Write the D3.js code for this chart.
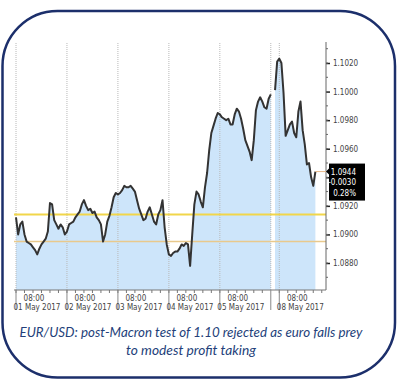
<!DOCTYPE html>
<html>
<head>
<meta charset="utf-8">
<script src="https://cdn.jsdelivr.net/npm/d3@7"></script>
<style>
  body { margin: 0; background: #fff; }
  svg { display: block; }
  .axisLabel { font-family: "Liberation Sans Narrow", "DejaVu Sans Condensed", sans-serif; font-size: 8px; fill: #444; }
  .caption { font-family: Lato, "Open Sans", sans-serif; font-style: italic; font-size: 14px; fill: #243f7a; }
</style>
</head>
<body>
<div id="chart"></div>
<script>
// EUR/USD hourly closes
// week of 01-05 May 2017, one value per hour starting 01 May 00:00
var weekPrices = [
  1.0912, 1.0900, 1.0907, 1.0909, 1.0900, 1.0895, 1.0894, 1.0893, 1.0891, 1.0889,
  1.0886, 1.0890, 1.0893, 1.0895, 1.0897, 1.0902, 1.0922, 1.0921, 1.0910, 1.0907,
  1.0904, 1.0907, 1.0905, 1.0900, 1.0902, 1.0907, 1.0908, 1.0909, 1.0912, 1.0914,
  1.0916, 1.0921, 1.0924, 1.0920, 1.0917, 1.0918, 1.0915, 1.0916, 1.0912, 1.0910,
  1.0907, 1.0895, 1.0900, 1.0909, 1.0913, 1.0919, 1.0926, 1.0929, 1.0928, 1.0929,
  1.0931, 1.0934, 1.0933, 1.0933, 1.0934, 1.0932, 1.0930, 1.0924, 1.0918, 1.0914,
  1.0910, 1.0911, 1.0916, 1.0919, 1.0914, 1.0909, 1.0907, 1.0914, 1.0917, 1.0924,
  1.0905, 1.0893, 1.0886, 1.0885, 1.0887, 1.0888, 1.0888, 1.0890, 1.0893, 1.0892,
  1.0894, 1.0893, 1.0878, 1.0900, 1.0921, 1.0930, 1.0928, 1.0923, 1.0919, 1.0933,
  1.0943, 1.0959, 1.0971, 1.0976, 1.0981, 1.0985, 1.0984, 1.0982, 1.0981, 1.0980,
  1.0981, 1.0977, 1.0977, 1.0984, 1.0988, 1.0986, 1.0981, 1.0974, 1.0966, 1.0962,
  1.0958, 1.0952, 1.0966, 1.0987, 1.0993, 1.0996, 1.0993, 1.0989, 1.0988, 1.0995,
  1.0998
];
var weekStart = 0;

// Sunday evening open onwards (hours after 01 May 00:00)
var mondayPrices = [
  1.1001, 1.1021, 1.1023, 1.1020, 1.0999, 1.0969, 1.0973, 1.0977, 1.0979, 1.0971,
  1.0968, 1.0986, 1.0993, 1.0973, 1.0963, 1.0949, 1.0950, 1.0940, 1.0934, 1.0944
];
var mondayStart = 122;

var dayLabels = ["01 May 2017", "02 May 2017", "03 May 2017", "04 May 2017", "05 May 2017", "08 May 2017"];
var dayStarts = [0, 24, 48, 72, 96, 124];
var dayBreaks = [0, 24, 48, 72, 96, 120, 124];
var yTickValues = [1.0880, 1.0900, 1.0920, 1.0940, 1.0960, 1.0980, 1.1000, 1.1020];
var levelValues = [1.0914, 1.0895];
var levelColors = ["#f1d64a", "#e9c98c"];
var lastChange = ["1.0944", "-0.0030", "0.28%"];
var captionLines = ["EUR/USD: post-Macron test of 1.10 rejected as euro falls prey", "to modest profit taking"];

var svgWidth = 400;
var svgHeight = 386;

var plot = { left: 14, right: 326, top: 43, bottom: 290 };

var svg = d3.select("#chart")
  .append("svg")
  .attr("width", svgWidth)
  .attr("height", svgHeight);

// scales
var xScale = d3.scaleLinear().domain([0, 146]).range([16, 326]);
var yScale = d3.scaleLinear().domain([1.0880, 1.1020]).range([263, 63]);

var weekData = weekPrices.map(function(v, i) { return { h: weekStart + i, v: v }; });
var mondayData = mondayPrices.map(function(v, i) { return { h: mondayStart + i, v: v }; });

var lastPrice = mondayPrices[mondayPrices.length - 1];

// filled area under price
var area = d3.area()
  .x(function(d) { return xScale(d.h); })
  .y0(plot.bottom)
  .y1(function(d) { return yScale(d.v); });

var line = d3.line()
  .x(function(d) { return xScale(d.h); })
  .y(function(d) { return yScale(d.v); });

[weekData, mondayData].forEach(function(seg) {
  svg.append("path")
    .datum(seg)
    .attr("d", area)
    .attr("fill", "#cde5fa");
});

// vertical dotted gridlines at day breaks
svg.selectAll(".grid")
  .data(dayBreaks)
  .enter()
  .append("line")
  .attr("x1", function(d) { return xScale(d); })
  .attr("x2", function(d) { return xScale(d); })
  .attr("y1", plot.top)
  .attr("y2", plot.bottom)
  .attr("stroke", "#b8b8b8")
  .attr("stroke-width", 1)
  .attr("stroke-dasharray", "1,1");

// support / resistance levels
svg.selectAll(".level")
  .data(levelValues)
  .enter()
  .append("line")
  .attr("x1", plot.left)
  .attr("x2", plot.right)
  .attr("y1", function(d) { return yScale(d); })
  .attr("y2", function(d) { return yScale(d); })
  .attr("stroke", function(d, i) { return levelColors[i]; })
  .attr("stroke-width", function(d, i) { return i == 0 ? 2 : 1.6; });

// price line
[weekData, mondayData].forEach(function(seg) {
  svg.append("path")
    .datum(seg)
    .attr("d", line)
    .attr("fill", "none")
    .attr("stroke", "#333")
    .attr("stroke-width", 2)
    .attr("stroke-linejoin", "round");
});

// right axis (label under the price box is hidden, like the original)
var rightAxis = d3.axisRight(yScale)
  .tickValues(yTickValues)
  .tickSize(4)
  .tickPadding(3)
  .tickFormat(function(d) {
    return Math.abs(d - lastPrice) < 0.0015 ? "" : d3.format(".4f")(d);
  });

var yAxisG = svg.append("g")
  .attr("transform", `translate(${plot.right}, 0)`)
  .call(rightAxis);
yAxisG.select(".domain").remove();
yAxisG.selectAll("line").attr("stroke", "#222").attr("stroke-width", 1.5);
yAxisG.selectAll("text").attr("class", "axisLabel").attr("font-family", null).attr("font-size", null);

// minor ticks on right axis
var minorY = d3.range(1.0870, 1.1031, 0.001);
svg.selectAll(".minorY")
  .data(minorY)
  .enter()
  .append("line")
  .attr("x1", plot.right)
  .attr("x2", plot.right + 2)
  .attr("y1", function(d) { return yScale(d); })
  .attr("y2", function(d) { return yScale(d); })
  .attr("stroke", "#666");

svg.append("line")
  .attr("x1", plot.right).attr("x2", plot.right)
  .attr("y1", plot.top - 1).attr("y2", plot.bottom)
  .attr("stroke", "#666");

// bottom axis line and ticks
svg.append("line")
  .attr("x1", plot.left).attr("x2", plot.right)
  .attr("y1", plot.bottom).attr("y2", plot.bottom)
  .attr("stroke", "#777");

var minorX = d3.range(0, 146, 4).filter(function(h) { return h < 120 || h >= 124; });
svg.selectAll(".minorX")
  .data(minorX)
  .enter()
  .append("line")
  .attr("x1", function(d) { return xScale(d); })
  .attr("x2", function(d) { return xScale(d); })
  .attr("y1", plot.bottom)
  .attr("y2", plot.bottom + 3)
  .attr("stroke", "#777");

svg.selectAll(".dayBreak")
  .data(dayBreaks)
  .enter()
  .append("line")
  .attr("x1", function(d) { return xScale(d); })
  .attr("x2", function(d) { return xScale(d); })
  .attr("y1", plot.bottom)
  .attr("y2", plot.bottom + 20)
  .attr("stroke", "#888");

var labelG = svg.selectAll(".dayLabel")
  .data(dayLabels)
  .enter()
  .append("g");

labelG.append("text")
  .attr("class", "axisLabel")
  .attr("x", function(d, i) { return xScale(dayStarts[i] + 8) + 1; })
  .attr("y", plot.bottom + 11)
  .attr("text-anchor", "middle")
  .text("08:00");

labelG.append("text")
  .attr("class", "axisLabel")
  .attr("x", function(d, i) { return xScale(dayStarts[i] + 8) + 4; })
  .attr("y", plot.bottom + 20)
  .attr("text-anchor", "middle")
  .text(function(d) { return d; });

// last price marker
var lastY = yScale(lastPrice);
var lastX = xScale(mondayData[mondayData.length - 1].h);
svg.append("line")
  .attr("x1", lastX).attr("x2", plot.right)
  .attr("y1", lastY).attr("y2", lastY)
  .attr("stroke", "#e9b98a");

svg.append("rect")
  .attr("x", plot.right + 3)
  .attr("y", lastY - 8)
  .attr("width", 36)
  .attr("height", 37)
  .attr("fill", "#000");

svg.append("path")
  .attr("d", `M${plot.right},${lastY} L${plot.right + 3},${lastY - 3} L${plot.right + 3},${lastY + 3} Z`)
  .attr("fill", "#000");

svg.selectAll(".lastText")
  .data(lastChange)
  .enter()
  .append("text")
  .attr("class", "axisLabel")
  .attr("x", plot.right + 30)
  .attr("y", function(d, i) { return lastY + 3 + i * 10.5; })
  .attr("text-anchor", "end")
  .style("fill", "#fff")
  .text(function(d) { return d; });

// caption
var captionWidths = [343, 130];
svg.selectAll(".caption")
  .data(captionLines)
  .enter()
  .append("text")
  .attr("class", "caption")
  .attr("x", 191)
  .attr("y", function(d, i) { return 337 + i * 18; })
  .attr("text-anchor", "middle")
  .attr("textLength", function(d, i) { return captionWidths[i]; })
  .attr("lengthAdjust", "spacingAndGlyphs")
  .text(function(d) { return d; });

// rounded frame
svg.append("rect")
  .attr("x", 2.5)
  .attr("y", 11)
  .attr("width", 392.5)
  .attr("height", 366.5)
  .attr("rx", 55)
  .attr("ry", 55)
  .attr("fill", "none")
  .attr("stroke", "#1c2f6b")
  .attr("stroke-width", 2.5);
</script>
</body>
</html>
